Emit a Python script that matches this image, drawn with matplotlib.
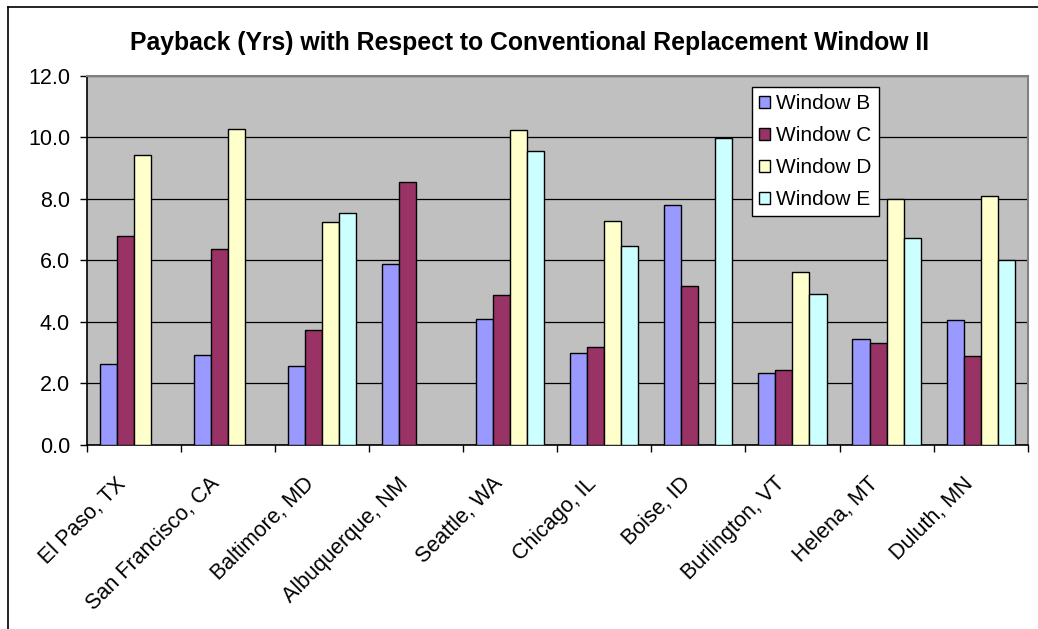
import numpy as np
import matplotlib
matplotlib.use("Agg")
import matplotlib.pyplot as plt
from matplotlib.patches import Rectangle
from matplotlib.lines import Line2D
from matplotlib.transforms import ScaledTranslation

plt.rcParams['font.family'] = ['Liberation Sans', 'DejaVu Sans']

cities = ["El Paso, TX", "San Francisco, CA", "Baltimore, MD", "Albuquerque, NM",
          "Seattle, WA", "Chicago, IL", "Boise, ID", "Burlington, VT",
          "Helena, MT", "Duluth, MN"]
series_names = ["Window B", "Window C", "Window D", "Window E"]
window_b = [2.63, 2.93, 2.57, 5.87, 4.10, 2.99, 7.80, 2.32, 3.44, 4.06]
window_c = [6.79, 6.38, 3.74, 8.56, 4.86, 3.19, 5.18, 2.44, 3.30, 2.89]
window_d = [9.43, 10.29, 7.25, np.nan, 10.24, 7.29, np.nan, 5.61, 8.00, 8.10]
window_e = [np.nan, np.nan, 7.55, np.nan, 9.57, 6.48, 9.99, 4.91, 6.74, 6.02]
series = [window_b, window_c, window_d, window_e]
colors = ["#9999FF", "#993366", "#FFFFCC", "#CCFFFF"]
y_ticks = [0, 2, 4, 6, 8, 10, 12]
title = "Payback (Yrs) with Respect to Conventional Replacement Window II"

W, H = 1038, 629
fig = plt.figure(figsize=(W / 100, H / 100), dpi=100)
fig.patch.set_facecolor("white")

# chart border: top and left edges only
fig.add_artist(Line2D([8 / W, 8 / W], [0, 1 - 7 / H], transform=fig.transFigure,
                      color="black", lw=1.2))
fig.add_artist(Line2D([8 / W, 1], [1 - 7 / H, 1 - 7 / H], transform=fig.transFigure,
                      color="black", lw=1.2))

left, right, top, bottom = 86.7, 1027.7, 76, 444.7
ax = fig.add_axes([left / W, 1 - bottom / H, (right - left) / W, (bottom - top) / H])
ax.set_facecolor("#C0C0C0")

n = len(cities)
x = np.arange(n)
bw = 0.181
for i, (vals, col, name) in enumerate(zip(series, colors, series_names)):
    ax.bar(x + (i - 1.5) * bw, vals, width=bw, color=col, edgecolor="black",
           linewidth=1.0, label=name, zorder=3)

ax.set_xlim(-0.5, n - 0.5)
ax.set_ylim(0, 12)
ax.set_yticks(y_ticks)
ax.set_yticklabels([f"{v:.1f}" for v in y_ticks], fontsize=15.5)
ax.yaxis.grid(True, color="black", lw=0.9, zorder=1)
ax.set_axisbelow(True)

# category labels at centers, tick marks at category boundaries
ax.set_xticks(x)
ax.set_xticklabels(cities, rotation=45, ha="right", va="center",
                   rotation_mode="anchor", fontsize=15.5)
ax.tick_params(axis="x", which="major", length=0, pad=26)
ax.set_xticks(np.arange(-0.5, n, 1.0), minor=True)
ax.tick_params(axis="x", which="minor", length=5, width=1, color="black")
ax.tick_params(axis="y", length=5, width=1, pad=7)
shift = ScaledTranslation(-11 / 100, 0, fig.dpi_scale_trans)
for lab in ax.get_xticklabels():
    lab.set_transform(lab.get_transform() + shift)

for s in ["top", "right"]:
    ax.spines[s].set_color("#808080")
    ax.spines[s].set_linewidth(1.5)
for s in ["left", "bottom"]:
    ax.spines[s].set_color("black")
    ax.spines[s].set_linewidth(1.2)

fig.text(530 / W, 1 - 43 / H, title, ha="center", va="center",
         fontsize=17.8, fontweight="bold")

handles = [Rectangle((0, 0), 1, 1, facecolor=c, edgecolor="black", lw=1.0) for c in colors]
leg = fig.legend(handles, series_names, loc="upper left",
                 bbox_to_anchor=(752 / W, 1 - 87 / H), bbox_transform=fig.transFigure,
                 fontsize=15, frameon=True, fancybox=False, edgecolor="black",
                 framealpha=1, handlelength=0.5, handleheight=0.5,
                 handletextpad=0.3, labelspacing=0.62, borderpad=0.35,
                 borderaxespad=0)
leg.get_frame().set_linewidth(1.0)

fig.savefig("out.png", dpi=100)
